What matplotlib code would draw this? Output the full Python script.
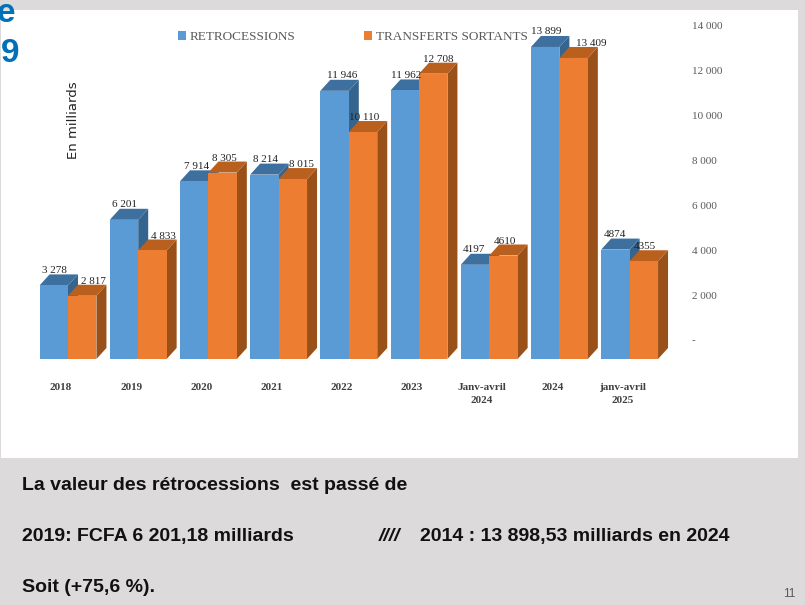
import numpy as np
import matplotlib
matplotlib.use('Agg')
import matplotlib.pyplot as plt
from matplotlib.patches import Polygon, Rectangle

# --- 1. Data ---
periods = ['2018', '2019', '2020', '2021', '2022', '2023',
           'Janv-avril\n2024', '2024', 'janv-avril\n2025']
retro = [3278, 6201, 7914, 8214, 11946, 11962, 4197, 13899, 4874]
transferts = [2817, 4833, 8305, 8015, 10110, 12708, 4610, 13409, 4355]
retro_labels = ['3 278', '6 201', '7 914', '8 214', '11 946', '11 962', '4197', '13 899', '4874']
transf_labels = ['2 817', '4 833', '8 305', '8 015', '10 110', '12 708', '4610', '13 409', '4355']
value_ticks = [0, 2000, 4000, 6000, 8000, 10000, 12000, 14000]
value_tick_labels = ['-', '2 000', '4 000', '6 000', '8 000', '10 000', '12 000', '14 000']

# label nudges in pixels, the source chart has them placed by hand
retro_dx = [1, 1, 2, 1, 8, 1, -1, 1, 0]
transf_dx = [11, 11, 2, 9, 1, 5, 2, 18, 1]

# --- 2. Page ---
W, H = 805, 605
BLUE, BLUE_TOP, BLUE_SIDE = '#5B9BD5', '#3D6F9F', '#35658F'
ORANGE, ORANGE_TOP, ORANGE_SIDE = '#ED7D31', '#B9601F', '#9A5119'
SERIF = 'Liberation Serif'
SANS = 'Liberation Sans'

fig = plt.figure(figsize=(W / 100, H / 100), dpi=100, facecolor='#DCDADB')
fig.patches.append(Rectangle((1 / W, 1 - 458 / H), 797 / W, 448 / H, transform=fig.transFigure,
                             facecolor='white', edgecolor='none', zorder=-5))


def box(left, top, right, bottom):
    return [left / W, 1 - bottom / H, (right - left) / W, (bottom - top) / H]


# --- 3. Bars with a drawn depth ---
PX_PER_UNIT = 70.2
ZERO_PX = 359
TOP_PX = 359 - 14000 * 0.02245
LEFT_PX, RIGHT_PX = 20, 680
ax = fig.add_axes(box(LEFT_PX, TOP_PX, RIGHT_PX, ZERO_PX))
ax.patch.set_alpha(0)
ax.set_xlim((LEFT_PX - 68) / PX_PER_UNIT, (RIGHT_PX - 68) / PX_PER_UNIT)
ax.set_ylim(0, 14000)
for s in ax.spines.values():
    s.set_visible(False)

x = np.arange(len(periods))
bar_w = 0.405
depth_x = 10 / PX_PER_UNIT
depth_y = 11 / 0.02245


def depth_faces(left, value, top_color, side_color, z):
    right = left + bar_w
    top = [(left, value), (right, value), (right + depth_x, value + depth_y), (left + depth_x, value + depth_y)]
    side = [(right, 0), (right + depth_x, depth_y), (right + depth_x, value + depth_y), (right, value)]
    ax.add_patch(Polygon(side, facecolor=side_color, edgecolor='none', zorder=z, clip_on=False))
    ax.add_patch(Polygon(top, facecolor=top_color, edgecolor='none', zorder=z, clip_on=False))


for i in x:
    depth_faces(i - bar_w, retro[i], BLUE_TOP, BLUE_SIDE, 2)
    depth_faces(i, transferts[i], ORANGE_TOP, ORANGE_SIDE, 4)

b1 = ax.bar(x - bar_w / 2, retro, bar_w, color=BLUE, zorder=3, label='RETROCESSIONS', clip_on=False)
b2 = ax.bar(x + bar_w / 2, transferts, bar_w, color=ORANGE, zorder=5, label='TRANSFERTS SORTANTS', clip_on=False)

# value labels
for i in x:
    ax.annotate(retro_labels[i], (i - bar_w / 2, retro[i]), xytext=(retro_dx[i] * 0.72, 10.8),
                textcoords='offset points', ha='center', va='center', family=SERIF,
                fontsize=8, color='#222222', zorder=8, annotation_clip=False)
    ax.annotate(transf_labels[i], (i + bar_w / 2, transferts[i]), xytext=(transf_dx[i] * 0.72, 10.4),
                textcoords='offset points', ha='center', va='center', family=SERIF,
                fontsize=8, color='#222222', zorder=8, annotation_clip=False)

# category labels sit a little left of the groups
ax.set_xticks(x - 0.1)
ax.set_xticklabels(periods, family=SERIF, fontsize=8, color='#404040', fontweight='bold', linespacing=1.6, va='top')
ax.tick_params(axis='x', length=0, pad=17)
ax.set_yticks([])
ax.set_ylabel('En milliards', fontsize=9.5, color='#222222', family='DejaVu Sans')
ax.yaxis.set_label_coords((80 - LEFT_PX) / (RIGHT_PX - LEFT_PX), (359 - 120) / (359 - TOP_PX))

leg = ax.legend(handles=[b1, b2], loc='upper left', bbox_to_anchor=(158 / 660, 1.045), ncols=2, frameon=False,
                handlelength=0.6, handleheight=0.75, handletextpad=0.3, columnspacing=5.2,
                borderaxespad=0, borderpad=0, prop={'family': SERIF, 'size': 9.5})
for t in leg.get_texts():
    t.set_color('#595959')

# --- 4. Value axis, drawn higher than the bars' base like the source ---
ax_r = fig.add_axes(box(LEFT_PX, TOP_PX - 19, RIGHT_PX, ZERO_PX - 19))
ax_r.patch.set_alpha(0)
ax_r.set_ylim(0, 14000)
ax_r.set_xticks([])
ax_r.yaxis.tick_right()
ax_r.set_yticks(value_ticks)
ax_r.set_yticklabels(value_tick_labels, family=SERIF, fontsize=8, color='#595959')
ax_r.tick_params(axis='y', length=0, pad=8.5)
for s in ax_r.spines.values():
    s.set_visible(False)

# --- 5. Slide text ---
fig.text(-3 / W, 1 - 22 / H, 'e', family=SANS, fontweight='bold', fontsize=24, color='#0070B8')
fig.text(1 / W, 1 - 62 / H, '9', family=SANS, fontweight='bold', fontsize=24, color='#0070B8')
fig.text(22 / W, 1 - 490 / H, 'La valeur des rétrocessions  est passé de', family=SANS, fontweight='bold',
         fontsize=14, color='#111111')
fig.text(22 / W, 1 - 541 / H, '2019: FCFA 6 201,18 milliards', family=SANS, fontweight='bold', fontsize=14, color='#111111')
fig.text(379 / W, 1 - 541 / H, '////', family=SANS, fontweight='bold', style='italic', fontsize=14, color='#111111')
fig.text(420 / W, 1 - 541 / H, '2014 : 13 898,53 milliards en 2024', family=SANS, fontweight='bold', fontsize=14, color='#111111')
fig.text(22 / W, 1 - 592 / H, 'Soit (+75,6 %).', family=SANS, fontweight='bold', fontsize=14, color='#111111')
fig.text(783 / W, 1 - 597 / H, '11', family=SANS, fontsize=8.5, color='#595959')

fig.savefig('out.png', dpi=100, facecolor=fig.get_facecolor())
